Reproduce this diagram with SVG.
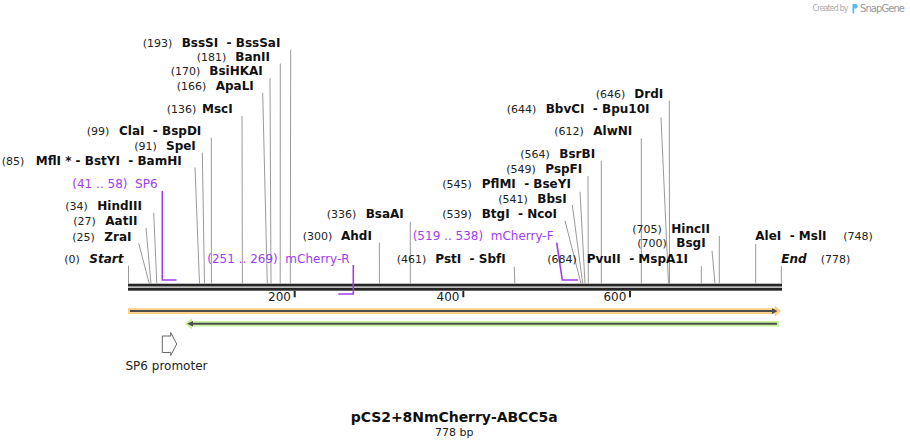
<svg xmlns="http://www.w3.org/2000/svg" width="910" height="447" viewBox="0 0 910 447">
<style>
text{font-family:"DejaVu Sans","Liberation Sans",sans-serif;white-space:pre}
.n{font-size:11px;fill:#222}
.b{font-size:12px;font-weight:bold;fill:#111}
.bi{font-size:12px;font-weight:bold;font-style:italic;fill:#111}
.p{font-size:12px;fill:#a33cf0}
.cut{stroke:#999;stroke-width:1;fill:none}
.prim{stroke:#a33cf0;stroke-width:1.6;fill:none}
.tk{font-size:12px;fill:#222;text-anchor:end}
</style>
<rect width="910" height="447" fill="#fff"/>
<g id="watermark">
<text x="812.5" y="11" textLength="36" style="font-size:8px;fill:#aaa">Created by</text>
<path d="M852.5,4 h3 a2.2,2.2 0 0 1 0,4.4 h-1.2 v5 h-1.8 z" fill="#5bb8f0"/>
<text x="860" y="12" textLength="45" style="font-size:10px;fill:#999">SnapGene</text>
</g>
<g id="backbone">
<rect x="128" y="283.7" width="654" height="2.8" fill="#262626"/>
<rect x="128" y="287.7" width="654" height="3" fill="#262626"/>
<rect x="293.7" y="291" width="2" height="6.3" fill="#262626"/>
<rect x="462.3" y="291" width="2" height="6.3" fill="#262626"/>
<rect x="629" y="291" width="2" height="6.3" fill="#262626"/>
<text class="tk" x="291" y="301">200</text>
<text class="tk" x="459.5" y="301">400</text>
<text class="tk" x="626.3" y="301">600</text>
</g>
<g id="connectors">
<line class="cut" x1="290.7" y1="49.5" x2="290.3" y2="283.7"/>
<line class="cut" x1="280.3" y1="63.5" x2="280.2" y2="283.7"/>
<line class="cut" x1="270" y1="78" x2="271" y2="283.7"/>
<line class="cut" x1="262.7" y1="93" x2="267.3" y2="283.7"/>
<line class="cut" x1="242" y1="116" x2="242.4" y2="283.7"/>
<line class="cut" x1="211.3" y1="137.5" x2="211.4" y2="283.7"/>
<line class="cut" x1="202.3" y1="152.5" x2="204.5" y2="283.7"/>
<line class="cut" x1="195" y1="167.5" x2="199.5" y2="283.7"/>
<line class="cut" x1="153.7" y1="212.7" x2="156.8" y2="283.7"/>
<line class="cut" x1="146" y1="228" x2="151" y2="283.7"/>
<line class="cut" x1="138.7" y1="243.3" x2="149.3" y2="283.7"/>
<line class="cut" x1="128.5" y1="265.7" x2="128.5" y2="283.7"/>
<line class="cut" x1="379.3" y1="242.7" x2="379.5" y2="283.7"/>
<line class="cut" x1="410.3" y1="221.7" x2="410.3" y2="283.7"/>
<line class="cut" x1="514.3" y1="266.7" x2="514.8" y2="283.7"/>
<line class="cut" x1="565" y1="220.7" x2="581" y2="283.7"/>
<line class="cut" x1="572.3" y1="205" x2="582.7" y2="283.7"/>
<line class="cut" x1="580" y1="191.7" x2="585" y2="283.7"/>
<line class="cut" x1="588" y1="176" x2="588.3" y2="283.7"/>
<line class="cut" x1="601.3" y1="160.7" x2="601.3" y2="283.7"/>
<line class="cut" x1="641.3" y1="138.3" x2="641.3" y2="283.7"/>
<line class="cut" x1="661" y1="117.3" x2="668.5" y2="283.7"/>
<line class="cut" x1="669.3" y1="100.7" x2="669.5" y2="283.7"/>
<line class="cut" x1="701.3" y1="266" x2="701.3" y2="283.7"/>
<line class="cut" x1="712" y1="250.7" x2="715" y2="283.7"/>
<line class="cut" x1="719.3" y1="236" x2="719.3" y2="283.7"/>
<line class="cut" x1="755.7" y1="244" x2="755.7" y2="283.7"/>
<line class="cut" x1="781.3" y1="266" x2="781.3" y2="283.7"/>
<path class="prim" d="M162.3,191 V280 H176.5"/>
<path class="prim" d="M353.3,265 V294 H338.3"/>
<path class="prim" d="M556.7,242.7 L562.3,280 H578"/>
</g>
<g id="site-193"><text class="n" x="142.7" y="46.7">(193)</text><text class="b" x="181.7" y="46.7">BssSI  - BssSaI</text></g>
<g id="site-181"><text class="n" x="196.7" y="60.7">(181)</text><text class="b" x="235.3" y="60.7">BanII</text></g>
<g id="site-170"><text class="n" x="170.7" y="75">(170)</text><text class="b" x="209.3" y="75">BsiHKAI</text></g>
<g id="site-166"><text class="n" x="176.7" y="90">(166)</text><text class="b" x="215.7" y="90">ApaLI</text></g>
<g id="site-136"><text class="n" x="166.7" y="112.7">(136)</text><text class="b" x="202" y="112.7">MscI</text></g>
<g id="site-99"><text class="n" x="86.7" y="135.3">(99)</text><text class="b" x="119" y="135.3">ClaI  - BspDI</text></g>
<g id="site-91"><text class="n" x="134.3" y="150">(91)</text><text class="b" x="166" y="150">SpeI</text></g>
<g id="site-85"><text class="n" x="1.7" y="165.3">(85)</text><text class="b" x="35.7" y="165.3">MflI * - BstYI  - BamHI</text></g>
<g id="primer-sp6"><text class="p" x="72.3" y="188.3">(41 .. 58)  SP6</text></g>
<g id="site-34"><text class="n" x="65.3" y="210">(34)</text><text class="b" x="97.3" y="210">HindIII</text></g>
<g id="site-27"><text class="n" x="73.3" y="225">(27)</text><text class="b" x="105.3" y="225">AatII</text></g>
<g id="site-25"><text class="n" x="72.3" y="240.7">(25)</text><text class="b" x="104.3" y="240.7">ZraI</text></g>
<g id="start"><text class="n" x="64.3" y="263.3">(0)</text><text class="bi" x="89.3" y="263.3">Start</text></g>
<g id="primer-mcherry-r"><text class="p" x="207.3" y="263.3">(251 .. 269)  mCherry-R</text></g>
<g id="site-336"><text class="n" x="326.7" y="218.3">(336)</text><text class="b" x="365.7" y="218.3">BsaAI</text></g>
<g id="site-300"><text class="n" x="302.7" y="240">(300)</text><text class="b" x="341" y="240">AhdI</text></g>
<g id="site-461"><text class="n" x="396.7" y="263.3">(461)</text><text class="b" x="435.3" y="263.3">PstI  - SbfI</text></g>
<g id="primer-mcherry-f"><text class="p" x="412.7" y="240">(519 .. 538)  mCherry-F</text></g>
<g id="site-646"><text class="n" x="595.7" y="98.3">(646)</text><text class="b" x="634.3" y="98.3">DrdI</text></g>
<g id="site-644"><text class="n" x="506.7" y="113.3">(644)</text><text class="b" x="545.7" y="113.3">BbvCI  - Bpu10I</text></g>
<g id="site-612"><text class="n" x="554.3" y="135">(612)</text><text class="b" x="593.3" y="135">AlwNI</text></g>
<g id="site-564"><text class="n" x="520.3" y="158.3">(564)</text><text class="b" x="559.3" y="158.3">BsrBI</text></g>
<g id="site-549"><text class="n" x="506.3" y="173.3">(549)</text><text class="b" x="545.3" y="173.3">PspFI</text></g>
<g id="site-545"><text class="n" x="442.3" y="188.3">(545)</text><text class="b" x="481.7" y="188.3">PflMI  - BseYI</text></g>
<g id="site-541"><text class="n" x="498.3" y="203.3">(541)</text><text class="b" x="537.3" y="203.3">BbsI</text></g>
<g id="site-539"><text class="n" x="442.3" y="218.3">(539)</text><text class="b" x="481.7" y="218.3">BtgI  - NcoI</text></g>
<g id="site-684"><text class="n" x="547.3" y="263.3">(684)</text><text class="b" x="586.7" y="263.3">PvuII  - MspA1I</text></g>
<g id="site-705"><text class="n" x="632.3" y="233.3">(705)</text><text class="b" x="671.3" y="233.3">HincII</text></g>
<g id="site-700"><text class="n" x="637.3" y="247.3">(700)</text><text class="b" x="676.3" y="247.3">BsgI</text></g>
<g id="site-748"><text class="b" x="755.3" y="240">AleI  - MslI</text><text class="n" x="843.3" y="240">(748)</text></g>
<g id="end"><text class="bi" x="781.3" y="263.3">End</text><text class="n" x="820.7" y="263.3">(778)</text></g>
<g id="feature-orange">
<rect x="128" y="308.2" width="648" height="5.8" fill="#fbcf86"/>
<polygon points="775,305.5 781,311.1 775,316.7" fill="#fbcf86"/>
<line x1="130" y1="311.1" x2="773" y2="311.1" stroke="#4d4d4d" stroke-width="2"/>
<polygon points="772,308.3 777.5,311.1 772,313.9" fill="#4d4d4d"/>
</g>
<g id="feature-green">
<rect x="190" y="321" width="589" height="5.6" fill="#c9f5a2"/>
<polygon points="192,318 184.5,323.8 192,329.6" fill="#c9f5a2"/>
<line x1="191" y1="323.8" x2="777" y2="323.8" stroke="#4d4d4d" stroke-width="2"/>
<polygon points="193,321 187,323.8 193,326.6" fill="#4d4d4d"/>
</g>
<g id="sp6-promoter">
<polygon points="162.3,336 170.7,336 170.7,332.5 176.7,344 170.7,355.5 170.7,352.5 162.3,352.5" fill="#fff" stroke="#666" stroke-width="1"/>
<text x="125.5" y="369.5" style="font-size:12px;fill:#222">SP6 promoter</text>
</g>
<g id="title">
<text x="454.2" y="421.7" text-anchor="middle" textLength="207" style="font-size:14px;font-weight:bold;fill:#111">pCS2+8NmCherry-ABCC5a</text>
<text x="454.2" y="435.5" text-anchor="middle" style="font-size:11px;fill:#222">778 bp</text>
</g>
</svg>
